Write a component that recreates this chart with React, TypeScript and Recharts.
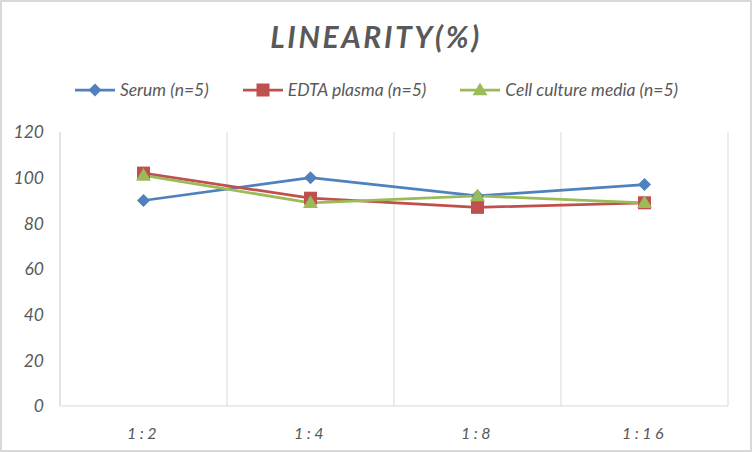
import React from "react";
import { CartesianGrid, LineChart, Line, XAxis, YAxis } from "recharts";

const dilutions = ["1:2", "1:4", "1:8", "1:16"];
const serum = [90, 100, 92, 97];
const edtaPlasma = [102, 91, 87, 89];
const cellCulture = [101, 89, 92, 89];
const yTicks = [0, 20, 40, 60, 80, 100, 120];

const data = dilutions.map((d, i) => ({
  dilution: d,
  serum: serum[i],
  edta: edtaPlasma[i],
  cell: cellCulture[i],
}));

const FONT = "Lato, 'Liberation Sans', sans-serif";
const TEXT = "#595959";

const series = [
  { key: "serum", name: "Serum (n=5)", color: "#4f81bd", shape: "diamond" },
  { key: "edta", name: "EDTA plasma (n=5)", color: "#c0504d", shape: "square" },
  { key: "cell", name: "Cell culture media (n=5)", color: "#9bbb59", shape: "triangle" },
];

function Marker({ cx, cy, shape, color }: any) {
  if (cx == null || cy == null) return null;
  if (shape === "diamond") {
    const r = 6.5;
    return <path d={`M${cx},${cy - r}L${cx + r},${cy}L${cx},${cy + r}L${cx - r},${cy}Z`} fill={color} />;
  }
  if (shape === "square") {
    const r = 6.5;
    return <rect x={cx - r} y={cy - r} width={r * 2} height={r * 2} fill={color} />;
  }
  const r = 7.5;
  return <path d={`M${cx},${cy - r}L${cx + r},${cy + r * 0.7}L${cx - r},${cy + r * 0.7}Z`} fill={color} />;
}

function ChartLegend() {
  return (
    <div style={{ position: "absolute", top: 79, width: 752, display: "flex", justifyContent: "center", gap: 33, fontFamily: FONT, fontStyle: "italic", fontSize: 17.5, color: TEXT }}>
      {series.map((s) => (
        <div key={s.key} style={{ display: "flex", alignItems: "center" }}>
          <svg width={42} height={18} style={{ marginRight: 4 }}>
            <line x1={1} x2={41} y1={9} y2={9} stroke={s.color} strokeWidth={2.75} />
            <Marker cx={21} cy={9} shape={s.shape} color={s.color} />
          </svg>
          <span>{s.name}</span>
        </div>
      ))}
    </div>
  );
}

export default function App() {
  return (
    <div style={{ position: "fixed", left: 0, top: 0, width: 752, height: 452, background: "#fff", border: "2px solid #d9d9d9", boxSizing: "border-box", overflow: "hidden" }}>
      <div style={{ position: "absolute", left: -2, top: -2 }}>
        <div style={{ position: "absolute", top: 18, width: 752, textAlign: "center", fontFamily: FONT, fontStyle: "italic", fontWeight: 700, fontSize: 30, letterSpacing: 2.6, color: TEXT }}>
          LINEARITY(%)
        </div>
        <ChartLegend />
        <LineChart width={752} height={452} data={data} margin={{ top: 132, right: 24, bottom: 0, left: 0 }}>
          <CartesianGrid
            horizontal={false}
            stroke="#d9d9d9"
            verticalCoordinatesGenerator={({ offset }: any) =>
              [0, 1, 2, 3, 4].map((i) => offset.left + (i * offset.width) / dilutions.length)
            }
          />
          <XAxis
            dataKey="dilution"
            height={46}
            padding={{ left: 83.5, right: 83.5 }}
            axisLine={{ stroke: "#d9d9d9" }}
            tickLine={false}
            tickMargin={16}
            tick={{ fill: TEXT, fontSize: 16, fontStyle: "italic", fontFamily: FONT, letterSpacing: 3.5 }}
          />
          <YAxis
            width={60}
            domain={[0, 120]}
            ticks={yTicks}
            axisLine={{ stroke: "#d9d9d9" }}
            tickLine={false}
            tickMargin={10}
            tick={{ fill: TEXT, fontSize: 17.5, fontStyle: "italic", fontFamily: FONT }}
          />
          {series.map((s) => (
            <Line
              key={s.key}
              dataKey={s.key}
              name={s.name}
              stroke={s.color}
              strokeWidth={2.75}
              isAnimationActive={false}
              dot={(p: any) => <Marker key={`${s.key}-${p.index}`} cx={p.cx} cy={p.cy} shape={s.shape} color={s.color} />}
              activeDot={false}
            />
          ))}
        </LineChart>
      </div>
    </div>
  );
}
